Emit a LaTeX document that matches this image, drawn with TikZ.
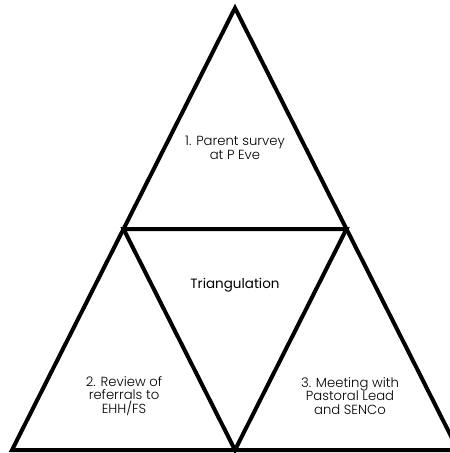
\documentclass[tikz,border=0pt]{standalone}
\usepackage{fontspec}
\setmainfont{Poppins}
\IfFontExistsTF{Poppins Light}{\newfontfamily\lightfont{Poppins Light}}{\newfontfamily\lightfont{Poppins}}
\begin{document}
\begin{tikzpicture}[x=1pt,y=-1pt,
  tri/.style={line width=4pt, line join=miter},
  lbl/.style={font=\lightfont\fontsize{13.2}{13.5}\selectfont, align=center, inner sep=0pt},
  mid/.style={font=\fontsize{13.5}{13}\selectfont, inner sep=0pt}]
\useasboundingbox (0,0) rectangle (450,453);
\clip (0,0) rectangle (450,453);
\coordinate (A) at (235,8);
\coordinate (L) at (12,450);
\coordinate (R) at (458,450);
\coordinate (ML) at (123.5,229);
\coordinate (MR) at (346.5,229);
\coordinate (MB) at (235,450);
\draw[tri] (A) -- (L) -- (R) -- cycle;
\draw[tri] (ML) -- (MR) -- (MB) -- cycle;
\node[lbl] (t1) at (235,148) {1. Parent survey\\at P Eve};
\node[mid] (t0) at (235,285) {Triangulation};
\node[lbl] (t2) at (124,396) {2. Review of\\referrals to\\EHH/FS};
\node[lbl] (t3) at (350,396) {3. Meeting with\\Pastoral Lead\\and SENCo};
\end{tikzpicture}
\end{document}
